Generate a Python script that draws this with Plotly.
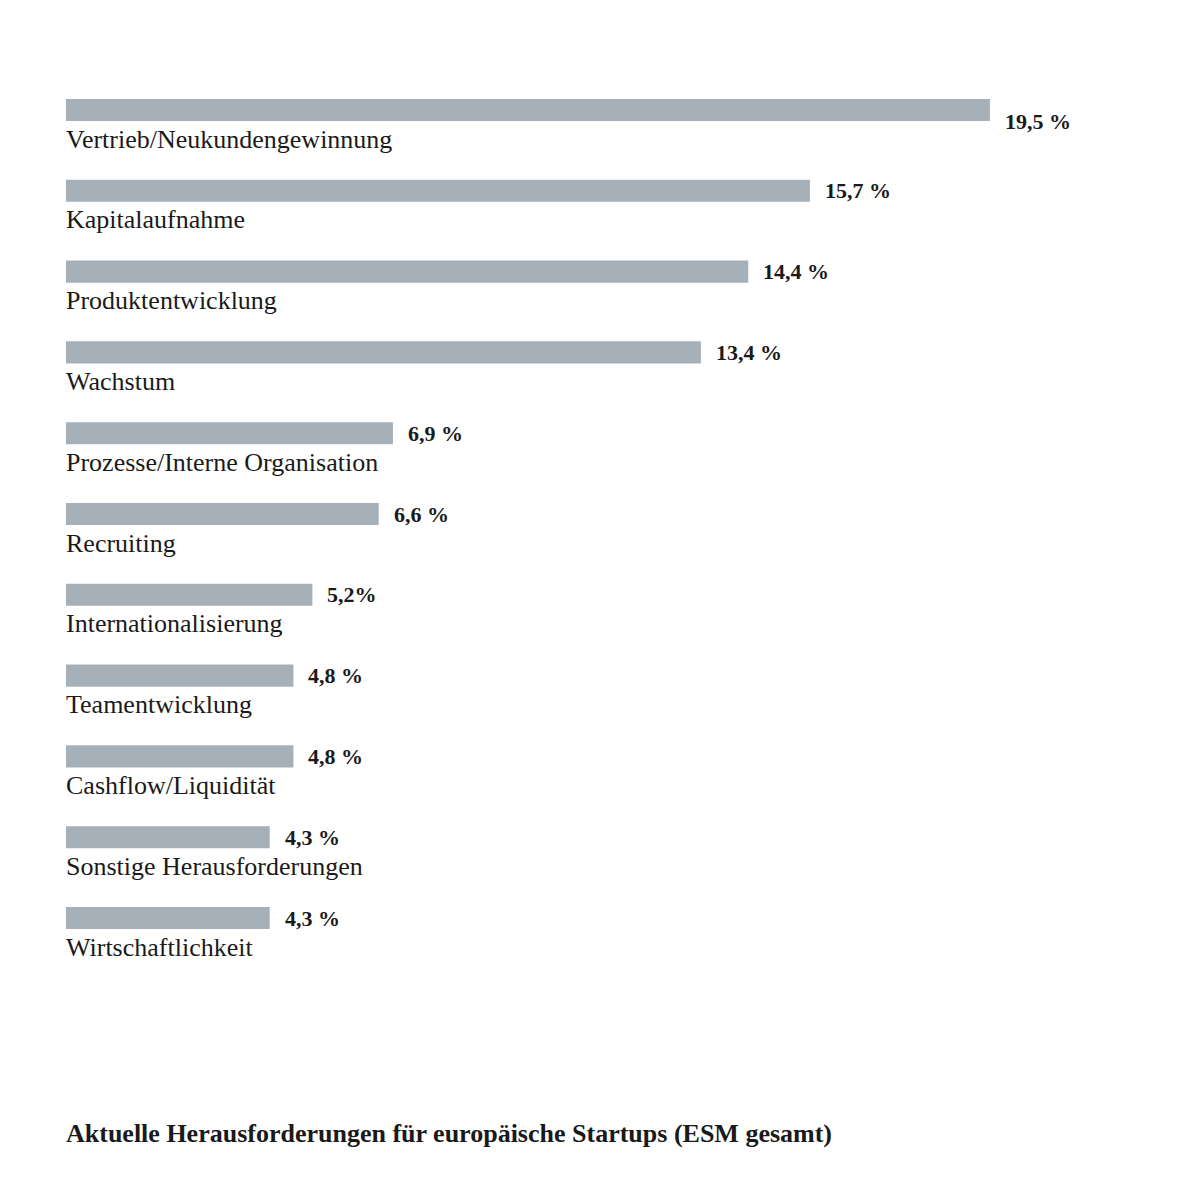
import plotly.graph_objects as go

categories = [
    "Vertrieb/Neukundengewinnung",
    "Kapitalaufnahme",
    "Produktentwicklung",
    "Wachstum",
    "Prozesse/Interne Organisation",
    "Recruiting",
    "Internationalisierung",
    "Teamentwicklung",
    "Cashflow/Liquidität",
    "Sonstige Herausforderungen",
    "Wirtschaftlichkeit",
]
values = [19.5, 15.7, 14.4, 13.4, 6.9, 6.6, 5.2, 4.8, 4.8, 4.3, 4.3]
value_labels = ["19,5 %", "15,7 %", "14,4 %", "13,4 %", "6,9 %", "6,6 %",
                "5,2%", "4,8 %", "4,8 %", "4,3 %", "4,3 %"]
title = "Aktuelle Herausforderungen für europäische Startups (ESM gesamt)"

SERIF = "Liberation Serif, Times New Roman, serif"
rows = list(range(len(categories)))

fig = go.Figure()
fig.add_trace(go.Bar(
    x=values, y=rows, orientation="h", base=0,
    width=0.273, marker=dict(color="#a6b0b8", line=dict(width=0)),
    hoverinfo="skip",
))

annotations = []
for i, (cat, v, lab) in enumerate(zip(categories, values, value_labels)):
    annotations.append(dict(
        x=0, y=i, xref="x", yref="y", text=cat, showarrow=False,
        xanchor="left", yanchor="middle", yshift=-29, xshift=-2,
        font=dict(family=SERIF, size=26, color="#1a1a1a"),
    ))
    annotations.append(dict(
        x=v, y=i, xref="x", yref="y", text="<b>" + lab + "</b>", showarrow=False,
        xanchor="left", yanchor="middle", xshift=13, yshift=(-11 if i == 0 else 0),
        font=dict(family=SERIF, size=22, color="#1a1a1a"),
    ))
annotations.append(dict(
    x=64 / 1200, y=1 - 1133 / 1200, xref="paper", yref="paper",
    text="<b>" + title + "</b>", showarrow=False,
    xanchor="left", yanchor="middle",
    font=dict(family=SERIF, size=26, color="#1a1a1a"),
))

fig.update_layout(
    width=1200, height=1200,
    margin=dict(l=0, r=0, t=0, b=0),
    paper_bgcolor="white", plot_bgcolor="white",
    showlegend=False,
    xaxis=dict(range=[-66 / 47.38, (1200 - 66) / 47.38], visible=False, fixedrange=True),
    yaxis=dict(range=[(1200 - 110) / 80.8, -110 / 80.8], visible=False, fixedrange=True),
    annotations=annotations,
)

fig.write_html("out.html")
